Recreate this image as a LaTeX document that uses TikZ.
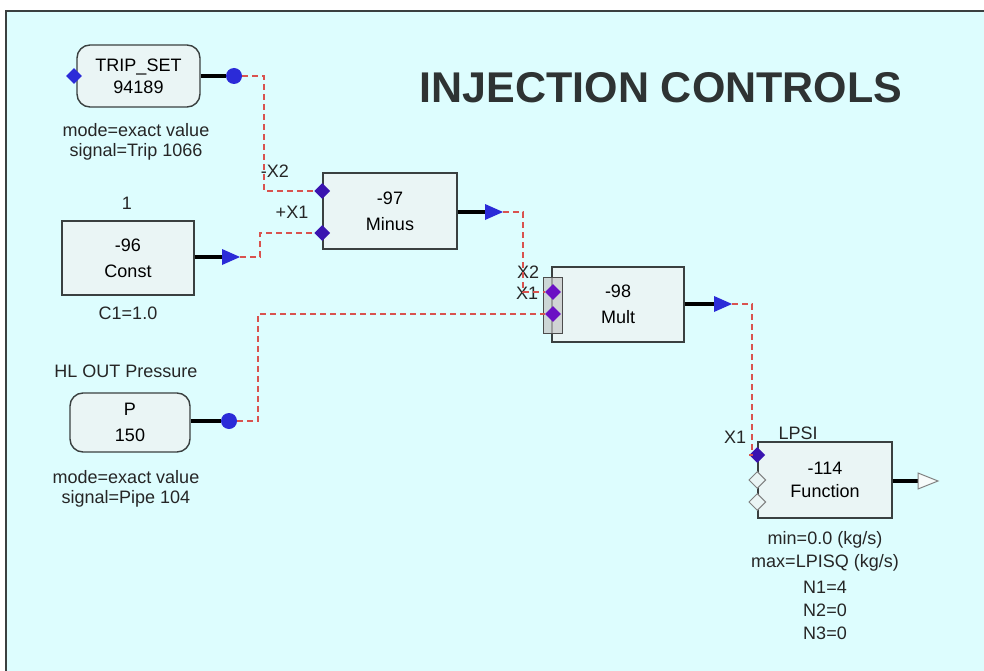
\documentclass[tikz,border=0pt]{standalone}
\usepackage{fontspec}
\setmainfont{Liberation Sans}
\usetikzlibrary{shapes.geometric}
\definecolor{bg}{HTML}{DDFDFE}
\definecolor{boxfill}{HTML}{EAF5F5}
\definecolor{framec}{HTML}{3A4040}
\definecolor{wirec}{HTML}{D9534F}
\definecolor{portblue}{HTML}{3A14B0}
\definecolor{pinblue}{HTML}{2B2BD8}
\newcommand\smallf{\fontsize{18}{26}\selectfont}
\begin{document}
\begin{tikzpicture}[x=1pt,y=-1pt,
  blk/.style={draw=framec, line width=1.4, fill=boxfill, align=center, font=\smallf, inner sep=0},
  rblk/.style={blk, rounded corners=13},
  lbl/.style={font=\smallf, inner sep=0, align=center, text=black!85},
  outw/.style={line width=3.4, black},
  dashw/.style={wirec, line width=1.4, dash pattern=on 6pt off 4pt},
  pdia/.style={diamond, fill=portblue, minimum size=16, inner sep=0},
  hdia/.style={diamond, draw=gray, fill=boxfill, line width=1, minimum size=17, inner sep=0},
  pcirc/.style={circle, fill=pinblue, minimum size=16, inner sep=0}]
\useasboundingbox (0,0) rectangle (984,671);
\fill[white] (0,0) rectangle (984,671);
\fill[bg] (6,11) rectangle (984,671);
\draw[framec, line width=2] (6,671) -- (6,11) -- (984,11);

% title
\node[font=\fontsize{43}{43}\selectfont\bfseries, text=framec!80!black, inner sep=0] (title) at (661,88) {INJECTION CONTROLS};

% blocks
\node[rblk, minimum width=123, minimum height=62, font=\fontsize{18}{22}\selectfont] (trip) at (138.5,76) {TRIP\_SET\\94189};
\node[blk, minimum width=132, minimum height=74] (const) at (128,258) {-96\\Const};
\node[rblk, minimum width=120, minimum height=59] (pblk) at (130,422.5) {P\\150};
\node[blk, minimum width=134, minimum height=76] (minus) at (390,211) {-97\\Minus};
\node[blk, minimum width=132, minimum height=75] (mult) at (618,304.5) {-98\\Mult};
\node[blk, minimum width=134, minimum height=76, font=\fontsize{18}{23}\selectfont] (func) at (825,480) {-114\\Function};

% labels
\node[lbl] (tripm) at (136,130) {mode=exact value};
\node[lbl] (trips) at (136,152) {signal=Trip 1066};
\node[lbl] (constn) at (127,203) {1};
\node[lbl] (constc) at (128,313) {C1=1.0};
\node[lbl] (phl) at (126,371) {HL OUT Pressure};
\node[lbl] (pm) at (126,477) {mode=exact value};
\node[lbl] (ps) at (126,499) {signal=Pipe 104};
\node[lbl] (lmx2) at (275,171) {-X2};
\node[lbl] (lmx1) at (292,212) {+X1};
\node[lbl] (lux2) at (528,272) {X2};
\node[lbl] (lux1) at (527,293) {X1};
\node[lbl] (lfx1) at (735,437) {X1};
\node[lbl] (lpsi) at (798,433) {LPSI};
\node[lbl] (f1) at (825,540) {min=0.0 (kg/s)};
\node[lbl] (f2) at (825,563) {max=LPISQ (kg/s)};
\node[lbl] (f3) at (825,587) {N1=4};
\node[lbl] (f4) at (825,610) {N2=0};
\node[lbl] (f5) at (825,633) {N3=0};

% output pins
\node[pcirc] (tripo) at (234,76) {};
\node[pcirc] (po) at (229,421) {};
\coordinate (consto) at (222,257);
\coordinate (minuso) at (485,212);
\coordinate (multo) at (714,304);
\coordinate (funco) at (918,481);

% thick outputs
\draw[outw] (trip.east |- tripo) -- (tripo.west);
\draw[outw] (pblk.east |- po) -- (po.west);
\draw[outw] (const.east |- consto) -- (consto);
\draw[outw] (minus.east |- minuso) -- (minuso);
\draw[outw] (mult.east |- multo) -- (multo);
\draw[outw] (func.east |- funco) -- (funco);
\fill[pinblue] (consto) -- ++(0,-8) -- ++(18,8) -- ++(-18,8) -- cycle;
\fill[pinblue] (minuso) -- ++(0,-8) -- ++(18,8) -- ++(-18,8) -- cycle;
\fill[pinblue] (multo) -- ++(0,-8) -- ++(18,8) -- ++(-18,8) -- cycle;
\draw[gray, fill=white!60!boxfill, line width=1] (funco) -- ++(0,-8) -- ++(20,8) -- ++(-20,8) -- cycle;
\coordinate (constt) at (240,257);
\coordinate (minust) at (503,212);
\coordinate (multt) at (732,304);

% input ports
\node[pdia, fill=pinblue] (tripi) at (74,76) {};
\node[pdia] (mx2) at (minus.west |- 0,191) {};
\node[pdia] (mx1) at (minus.west |- 0,233) {};
\node[draw=gray!60!black, fill=gray!45, fill opacity=0.7, line width=1, minimum width=19, minimum height=56, inner sep=0] (uport) at (553,305) {};
\node[pdia, fill=portblue!75!magenta] (ux2) at (553,292) {};
\node[pdia, fill=portblue!75!magenta] (ux1) at (553,314) {};
\node[pdia] (fx1) at (func.west |- 0,455) {};
\node[hdia] (fx2) at (func.west |- 0,480) {};
\node[hdia] (fx3) at (func.west |- 0,502) {};

% signal wires
\draw[dashw] (tripo.east) -- (264,76) |- (mx2.west);
\draw[dashw] (constt) -- (260,257) |- (mx1.west);
\draw[dashw] (minust) -- (523,212) |- (ux2.west);
\draw[dashw] (po.east) -- (258,421) |- (ux1.west);
\draw[dashw] (multt) -- (752,304) |- (fx1.west);
\end{tikzpicture}
\end{document}
